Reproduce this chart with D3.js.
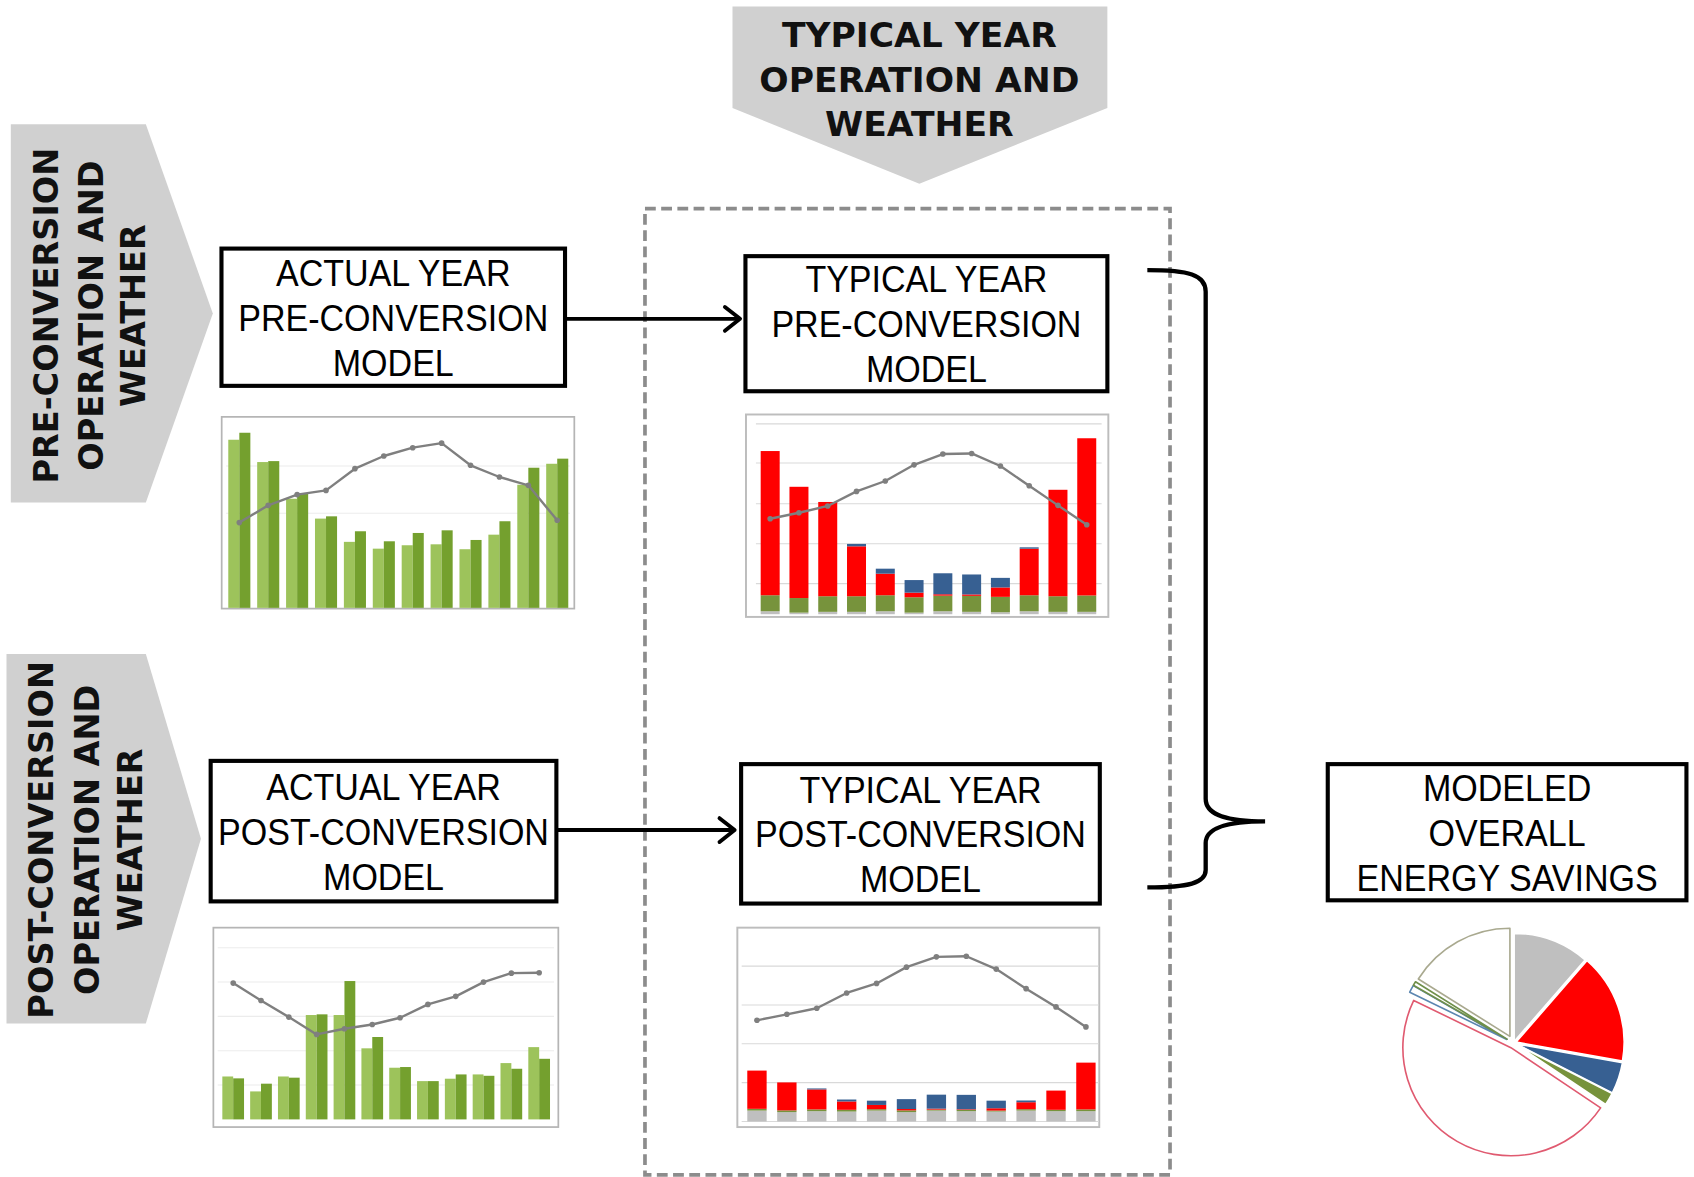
<!DOCTYPE html>
<html>
<head>
<meta charset="utf-8">
<script src="https://cdn.jsdelivr.net/npm/d3@7"></script>
<style>
  html, body { margin: 0; padding: 0; background: #fff; overflow: hidden; }
  svg { display: block; }
</style>
</head>
<body>
<svg id="fig"></svg>
<script>
// ---------------- data ----------------
const months = ["Jan", "Feb", "Mar", "Apr", "May", "Jun", "Jul", "Aug", "Sep", "Oct", "Nov", "Dec"];

// Actual year, pre-conversion: metered vs. modeled monthly energy, outdoor temperature
const preActualMetered = [88.9, 77.1, 57.7, 47.2, 34.9, 31.3, 33.1, 33.6, 31.0, 38.7, 65.1, 76.2];
const preActualModeled = [92.6, 77.6, 60.4, 48.4, 40.5, 35.2, 39.6, 41.0, 35.9, 45.8, 74.1, 78.9];
const preActualTemp    = [45.1, 54.2, 59.9, 62.1, 73.6, 80.3, 84.7, 87.1, 75.4, 69.2, 64.8, 46.3];
const preActualGrid    = [50, 75];

// Actual year, post-conversion
const postActualMetered = [25.0, 16.3, 25.0, 60.8, 60.8, 41.4, 30.1, 22.3, 23.7, 26.2, 32.8, 42.1];
const postActualModeled = [23.9, 20.8, 24.3, 61.2, 80.6, 48.0, 30.5, 22.3, 26.2, 25.4, 29.5, 35.3];
const postActualTemp    = [79.4, 69.3, 59.6, 49.5, 52.8, 55.3, 59.2, 67.0, 71.7, 80.0, 85.2, 85.4];
const postActualGrid    = [20, 40, 60, 80, 100];

// Typical year, end uses stacked bottom to top
const endUses = ["base", "fans", "heating", "cooling"];

const preTypicalBase    = [1.5, 0.8, 1.2, 1.2, 1.5, 0.8, 1.5, 1.2, 1.0, 1.5, 1.2, 1.2];
const preTypicalFans    = [8.0, 7.3, 7.8, 7.8, 8.0, 7.7, 7.8, 8.0, 7.7, 8.0, 7.8, 8.2];
const preTypicalHeating = [72.2, 55.7, 47.2, 25.0, 10.8, 2.3, 0.7, 0.7, 4.7, 23.3, 53.3, 78.7];
const preTypicalCooling = [0, 0, 0, 1.2, 2.5, 6.3, 10.5, 10.0, 4.8, 0.7, 0, 0];
const preTypicalTemp    = [47.8, 50.8, 54.2, 61.5, 66.7, 74.8, 80.2, 80.5, 74.2, 64.3, 54.5, 44.8];
const preTypicalGrid    = [15.3, 35.3, 55.3, 75.7, 95.3];

const postTypicalBase    = [5.6, 4.8, 5.3, 5.1, 5.6, 4.8, 5.6, 5.3, 5.1, 5.6, 5.3, 5.3];
const postTypicalFans    = [0.9, 0.9, 0.9, 0.9, 0.7, 0.9, 0.5, 0.7, 0.5, 0.7, 0.7, 0.9];
const postTypicalHeating = [19.7, 14.4, 10.3, 4.3, 2.2, 0.7, 0.5, 0.3, 1.2, 3.6, 9.9, 24.1];
const postTypicalCooling = [0, 0, 0.5, 1.0, 2.2, 5.1, 7.2, 7.4, 3.9, 0.9, 0, 0];
const postTypicalTemp    = [52.1, 55.2, 58.3, 66.2, 71.1, 79.5, 84.8, 85.1, 78.5, 68.4, 59.0, 48.7];
const postTypicalGrid    = [0, 20, 40, 60, 80];

// Overall savings pie: post-conversion use (filled) and savings (outlined)
const savingsParts  = ["base", "heating", "cooling", "fans", "heatingSaved", "coolingSaved", "fansSaved", "baseSaved"];
const savingsShares = [11.4, 16.4, 4.7, 1.9, 47.8, 1.1, 0.6, 16.1];

// ---------------- styles ----------------
const C = {
  base: "#bfbfbf", fans: "#77933c", heating: "#ff0000", cooling: "#376092",
  light: "#9dc35b", dark: "#74a02e", line: "#7f7f7f", frame: "#bdbdbd", grid: "#d9d9d9",
  chevron: "#d0d0d0"
};

const W = 1694, H = 1177;   // output size
const VW = 1568, VH = 1089; // drawing units

const svg = d3.select("#fig")
  .attr("width", W).attr("height", H)
  .attr("viewBox", `0 0 ${VW} ${VH}`)
  .attr("preserveAspectRatio", "none");

svg.append("rect").attr("width", VW).attr("height", VH).attr("fill", "#fff");

// ---------------- chevrons ----------------
const chevrons = [
  { pts: [[678, 6], [1025, 6], [1025, 100], [851, 170], [678, 100]] },
  { pts: [[10, 115], [135, 115], [197, 290], [135, 465], [10, 465]] },
  { pts: [[6, 605], [135, 605], [186, 776], [135, 947], [6, 947]] }
];
svg.selectAll("polygon.chev").data(chevrons).join("polygon")
  .attr("class", "chev")
  .attr("points", d => d.pts.map(p => p.join(",")).join(" "))
  .attr("fill", C.chevron);

function boldLines(g, lines, size) {
  g.selectAll("text").data(lines).join("text")
    .attr("x", d => d.x).attr("y", d => d.y).attr("dy", "0.365em")
    .attr("text-anchor", "middle")
    .attr("font-family", "'DejaVu Sans', sans-serif")
    .attr("font-weight", "bold")
    .attr("font-size", size)
    .attr("fill", "#111")
    .text(d => d.t);
}

boldLines(svg.append("g"), [
  { t: "TYPICAL YEAR", x: 851, y: 32 },
  { t: "OPERATION AND", x: 851, y: 73 },
  { t: "WEATHER", x: 851, y: 114 }
], 32);

boldLines(svg.append("g").attr("transform", "translate(0,292) rotate(-90)"), [
  { t: "PRE-CONVERSION", x: 0, y: 42 },
  { t: "OPERATION AND", x: 0, y: 84 },
  { t: "WEATHER", x: 0, y: 123 }
], 31);

boldLines(svg.append("g").attr("transform", "translate(0,777) rotate(-90)"), [
  { t: "POST-CONVERSION", x: 0, y: 38 },
  { t: "OPERATION AND", x: 0, y: 80 },
  { t: "WEATHER", x: 0, y: 120 }
], 31);

// ---------------- dashed typical-year frame ----------------
svg.append("rect")
  .attr("x", 597).attr("y", 193).attr("width", 486).attr("height", 894)
  .attr("fill", "none").attr("stroke", "#8c8c8c").attr("stroke-width", 3.4)
  .attr("stroke-dasharray", "10 5");

// ---------------- model boxes ----------------
const boxes = [
  { x0: 205, y0: 230, x1: 523, y1: 357, lines: ["ACTUAL YEAR", "PRE-CONVERSION", "MODEL"] },
  { x0: 690, y0: 237, x1: 1025, y1: 362, lines: ["TYPICAL YEAR", "PRE-CONVERSION", "MODEL"] },
  { x0: 195, y0: 704, x1: 515, y1: 834, lines: ["ACTUAL YEAR", "POST-CONVERSION", "MODEL"] },
  { x0: 686, y0: 707, x1: 1018, y1: 836, lines: ["TYPICAL YEAR", "POST-CONVERSION", "MODEL"] },
  { x0: 1229, y0: 707, x1: 1561, y1: 833, lines: ["MODELED", "OVERALL", "ENERGY SAVINGS"] }
];
const textSqueeze = 0.9; // horizontal condensing of box captions
const boxG = svg.selectAll("g.box").data(boxes).join("g").attr("class", "box");
boxG.append("rect")
  .attr("x", d => d.x0).attr("y", d => d.y0)
  .attr("width", d => d.x1 - d.x0).attr("height", d => d.y1 - d.y0)
  .attr("fill", "#fff").attr("stroke", "#000").attr("stroke-width", 3.8);
boxG.each(function (d) {
  const cx = (d.x0 + d.x1) / 2, cy = (d.y0 + d.y1) / 2;
  d3.select(this).append("g")
    .attr("transform", `translate(${cx},${cy}) scale(${textSqueeze},1)`)
    .selectAll("text").data(d.lines).join("text")
    .attr("x", 0).attr("y", (t, i) => (i - 1) * 41.5)
    .attr("dy", "0.36em")
    .attr("text-anchor", "middle")
    .attr("font-family", "'Liberation Sans', Arial, sans-serif")
    .attr("font-size", 35)
    .attr("fill", "#000")
    .text(t => t);
});

// ---------------- arrows ----------------
function arrow(x0, x1, y) {
  const g = svg.append("g").attr("fill", "none").attr("stroke", "#000").attr("stroke-width", 3.6);
  g.append("line").attr("x1", x0).attr("x2", x1 - 2).attr("y1", y).attr("y2", y);
  g.append("path").attr("d", `M${x1 - 14},${y - 11} L${x1},${y} L${x1 - 14},${y + 11}`)
    .attr("stroke-linecap", "round").attr("stroke-linejoin", "round");
}
arrow(523, 685, 295);
arrow(515, 680, 768);

// ---------------- brace ----------------
svg.append("path")
  .attr("d", "M1062,250 C1100,250 1116,254 1116,270 L1116,739 C1116,752 1130,760 1171,760 " +
             "C1130,760 1116,768 1116,780 L1116,805 C1116,817 1100,821 1062,821")
  .attr("fill", "none").attr("stroke", "#000").attr("stroke-width", 4);

// ---------------- monthly charts ----------------
function frame(g, f, color, width) {
  g.append("rect").attr("x", f[0]).attr("y", f[1]).attr("width", f[2] - f[0]).attr("height", f[3] - f[1])
    .attr("fill", "#fff").attr("stroke", color).attr("stroke-width", width);
}

function tempLine(g, x, y, temps) {
  const pts = months.map((m, i) => [x(m) + x.bandwidth() / 2, y(temps[i])]);
  g.append("path").attr("d", d3.line()(pts))
    .attr("fill", "none").attr("stroke", C.line).attr("stroke-width", 2.2).attr("stroke-linejoin", "round");
  g.selectAll("circle.pt").data(pts).join("circle").attr("class", "pt")
    .attr("cx", d => d[0]).attr("cy", d => d[1]).attr("r", 2.6).attr("fill", C.line);
}

function groupedChart(cfg, metered, modeled, temps, grid) {
  const g = svg.append("g");
  frame(g, cfg.frame, "#b5b5b5", 1.6);
  const x = d3.scaleBand().domain(months).range(cfg.xr).paddingInner(cfg.pad).paddingOuter(0);
  const xs = d3.scaleBand().domain(["metered", "modeled"]).range([0, x.bandwidth()]);
  const y = d3.scaleLinear().domain([0, cfg.max]).range(cfg.yr);
  g.selectAll("line.grid").data(grid).join("line").attr("class", "grid")
    .attr("x1", cfg.frame[0] + 4).attr("x2", cfg.frame[2] - 4)
    .attr("y1", d => y(d)).attr("y2", d => y(d))
    .attr("stroke", "#ececec").attr("stroke-width", 1);
  const rows = months.map((m, i) => ({ m, metered: metered[i], modeled: modeled[i] }));
  const grp = g.selectAll("g.m").data(rows).join("g").attr("transform", d => `translate(${x(d.m)},0)`);
  grp.selectAll("rect").data(d => [["metered", d.metered], ["modeled", d.modeled]]).join("rect")
    .attr("x", d => xs(d[0])).attr("width", xs.bandwidth())
    .attr("y", d => y(d[1])).attr("height", d => y(0) - y(d[1]))
    .attr("fill", d => d[0] === "metered" ? C.light : C.dark);
  const yt = d3.scaleLinear().domain([0, cfg.max]).range(cfg.yr);
  tempLine(g, x, yt, temps);
}

function stackedChart(cfg, parts, temps, grid) {
  const g = svg.append("g");
  frame(g, cfg.frame, "#bdbdbd", 1.8);
  const x = d3.scaleBand().domain(months).range(cfg.xr).paddingInner(cfg.pad).paddingOuter(0);
  const y = d3.scaleLinear().domain([0, 100]).range(cfg.yr);
  g.selectAll("line.grid").data(grid).join("line").attr("class", "grid")
    .attr("x1", cfg.gx[0]).attr("x2", cfg.gx[1])
    .attr("y1", d => y(d)).attr("y2", d => y(d))
    .attr("stroke", C.grid).attr("stroke-width", 1);
  const table = months.map((m, i) => {
    const r = { m };
    endUses.forEach(k => { r[k] = parts[k][i]; });
    return r;
  });
  const series = d3.stack().keys(endUses)(table);
  g.selectAll("g.s").data(series).join("g").attr("fill", d => C[d.key])
    .selectAll("rect").data(d => d).join("rect")
    .attr("x", d => x(d.data.m)).attr("width", x.bandwidth())
    .attr("y", d => y(d[1])).attr("height", d => y(d[0]) - y(d[1]));
  tempLine(g, x, y, temps);
}

groupedChart({ frame: [205.2, 385.7, 531.6, 563.1], xr: [211.3, 526.0], pad: 0.236, yr: [562.4, 385.7], max: 101 },
  preActualMetered, preActualModeled, preActualTemp, preActualGrid);

groupedChart({ frame: [197.5, 858.3, 516.8, 1042.8], xr: [205.8, 509.1], pad: 0.22, yr: [1035.7, 858.3], max: 111.7 },
  postActualMetered, postActualModeled, postActualTemp, postActualGrid);

stackedChart({ frame: [690.5, 383.5, 1025.9, 570.8], xr: [704.1, 1014.7], pad: 0.34, yr: [568.3, 383.5], gx: [699.7, 1019.7] },
  { base: preTypicalBase, fans: preTypicalFans, heating: preTypicalHeating, cooling: preTypicalCooling },
  preTypicalTemp, preTypicalGrid);

stackedChart({ frame: [682.5, 858.3, 1017.5, 1042.8], xr: [691.7, 1014.1], pad: 0.353, yr: [1037.6, 858], gx: [686.5, 1017] },
  { base: postTypicalBase, fans: postTypicalFans, heating: postTypicalHeating, cooling: postTypicalCooling },
  postTypicalTemp, postTypicalGrid);

// ---------------- savings pie ----------------
const pieStyle = {
  base:         { fill: C.base,    stroke: "#fff",    off: 1.5 },
  heating:      { fill: C.heating, stroke: "#fff",    off: 2.5 },
  cooling:      { fill: C.cooling, stroke: "#fff",    off: 2.5 },
  fans:         { fill: C.fans,    stroke: "#fff",    off: 2.5 },
  heatingSaved: { fill: "#fff",    stroke: "#e05a70", off: 5 },
  coolingSaved: { fill: "#fff",    stroke: "#5b86b0", off: 7 },
  fansSaved:    { fill: "#fff",    stroke: "#6f8f4a", off: 7 },
  baseSaved:    { fill: "#fff",    stroke: "#a9a98f", off: 7 }
};
const pieData = d3.pie().sort(null).value(d => d.v)(savingsParts.map((k, i) => ({ k, v: savingsShares[i] })));
const arc = d3.arc().innerRadius(0).outerRadius(100);
const pieG = svg.append("g").attr("transform", "translate(1401,965)");
pieG.selectAll("path").data(pieData).join("path")
  .attr("transform", d => {
    const a = (d.startAngle + d.endAngle) / 2, o = pieStyle[d.data.k].off;
    return `translate(${Math.sin(a) * o},${-Math.cos(a) * o})`;
  })
  .attr("d", arc)
  .attr("fill", d => pieStyle[d.data.k].fill)
  .attr("stroke", d => pieStyle[d.data.k].stroke)
  .attr("stroke-width", 1.5)
  .attr("stroke-linejoin", "round");
</script>
</body>
</html>
